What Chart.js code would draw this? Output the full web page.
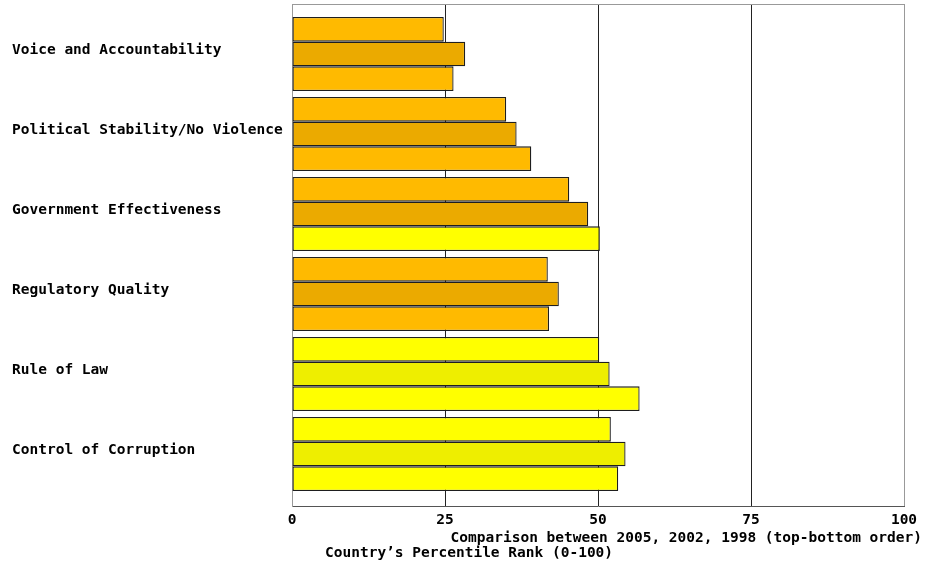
<!DOCTYPE html>
<html>
<head>
<meta charset="utf-8">
<script src="https://cdn.jsdelivr.net/npm/chart.js@4/dist/chart.umd.min.js"></script>
<style>
  html, body { margin: 0; padding: 0; background: #ffffff; }
  #wrap { width: 930px; height: 561px; }
</style>
</head>
<body>
<div id="wrap"><canvas id="c" width="930" height="561"></canvas></div>
<script>
// ---- data ----
const categories = [
  "Voice and Accountability",
  "Political Stability/No Violence",
  "Government Effectiveness",
  "Regulatory Quality",
  "Rule of Law",
  "Control of Corruption"
];
const seriesNames = ["2005", "2002", "1998"];
const values2005 = [24.8, 35.0, 45.3, 41.8, 50.2, 52.1];
const values2002 = [28.3, 36.7, 48.4, 43.6, 51.9, 54.5];
const values1998 = [26.4, 39.1, 50.3, 42.0, 56.8, 53.3];
const xTicks = [0, 25, 50, 75, 100];
const footerLine1 = "Comparison between 2005, 2002, 1998 (top-bottom order)";
const footerLine2 = "Country\u2019s Percentile Rank (0-100)";

// ---- styles ----
const FONT = "'DejaVu Sans Mono', 'Liberation Mono', monospace";
const lightColors = { low: "#FFBA00", high: "#FFFF00" };
const darkColors  = { low: "#EBAA00", high: "#EEEE00" };

function colorFor(palette) {
  return (ctx) => {
    const v = ctx.raw && typeof ctx.raw === "object" ? ctx.raw.x : ctx.raw;
    return v >= 50 ? palette.high : palette.low;
  };
}
function toPoints(arr) { return arr.map((v, i) => ({ x: v, y: i })); }

const footerPlugin = {
  id: "footerText",
  afterDraw(chart) {
    const ctx = chart.ctx;
    const a = chart.chartArea;
    ctx.save();
    // top frame line
    ctx.strokeStyle = "#999999";
    ctx.lineWidth = 1;
    ctx.beginPath();
    ctx.moveTo(a.left, Math.round(a.top) + 0.5);
    ctx.lineTo(a.right, Math.round(a.top) + 0.5);
    ctx.stroke();
    ctx.fillStyle = "#000000";
    ctx.font = "bold 14.5px " + FONT;
    ctx.textBaseline = "middle";
    ctx.textAlign = "right";
    ctx.fillText(footerLine1, 922, 538);
    ctx.textAlign = "left";
    ctx.fillText(footerLine2, 325, 553);
    ctx.restore();
  }
};

new Chart(document.getElementById("c"), {
  type: "bar",
  data: {
    datasets: [
      { label: seriesNames[0], data: toPoints(values2005), backgroundColor: colorFor(lightColors) },
      { label: seriesNames[1], data: toPoints(values2002), backgroundColor: colorFor(darkColors) },
      { label: seriesNames[2], data: toPoints(values1998), backgroundColor: colorFor(lightColors) }
    ].map(d => Object.assign(d, {
      borderColor: "#1e1e1e",
      borderWidth: 1.3,
      borderSkipped: false,
      categoryPercentage: 0.925,
      barPercentage: 1.0
    }))
  },
  options: {
    indexAxis: "y",
    responsive: false,
    animation: false,
    devicePixelRatio: 1,
    layout: { padding: { left: 12, top: 4, right: 26, bottom: 0 } },
    plugins: {
      legend: { display: false },
      tooltip: { enabled: false },
      title: { display: false }
    },
    scales: {
      x: {
        type: "linear",
        position: "bottom",
        min: 0,
        max: 100,
        afterBuildTicks(scale) { scale.ticks = xTicks.map(v => ({ value: v })); },
        afterFit(scale) { scale.height = 55; },
        grid: {
          drawTicks: false,
          color: (c) => (c.tick && (c.tick.value === 0 || c.tick.value === 100)) ? "#999999" : "#222222",
          lineWidth: 1
        },
        border: { display: true, color: "#555555", width: 1 },
        ticks: {
          color: "#000000",
          padding: 6,
          font: { family: FONT, size: 14.5, weight: "bold" },
          maxRotation: 0
        }
      },
      y: {
        type: "linear",
        reverse: true,
        offset: false,
        min: -0.625,
        max: 5.65,
        afterBuildTicks(scale) { scale.ticks = categories.map((_, i) => ({ value: i })); },
        afterFit(scale) { scale.width = 280; scale.paddingTop = 0; scale.paddingBottom = 0; },
        grid: { display: false, drawTicks: false, offset: false },
        border: { display: true, color: "#999999", width: 1 },
        ticks: {
          color: "#000000",
          crossAlign: "far",
          labelOffset: -4,
          padding: 6,
          autoSkip: false,
          font: { family: FONT, size: 14.5, weight: "bold" },
          callback: (v) => categories[v] !== undefined ? categories[v] : ""
        }
      }
    }
  },
  plugins: [footerPlugin]
});
</script>
</body>
</html>
